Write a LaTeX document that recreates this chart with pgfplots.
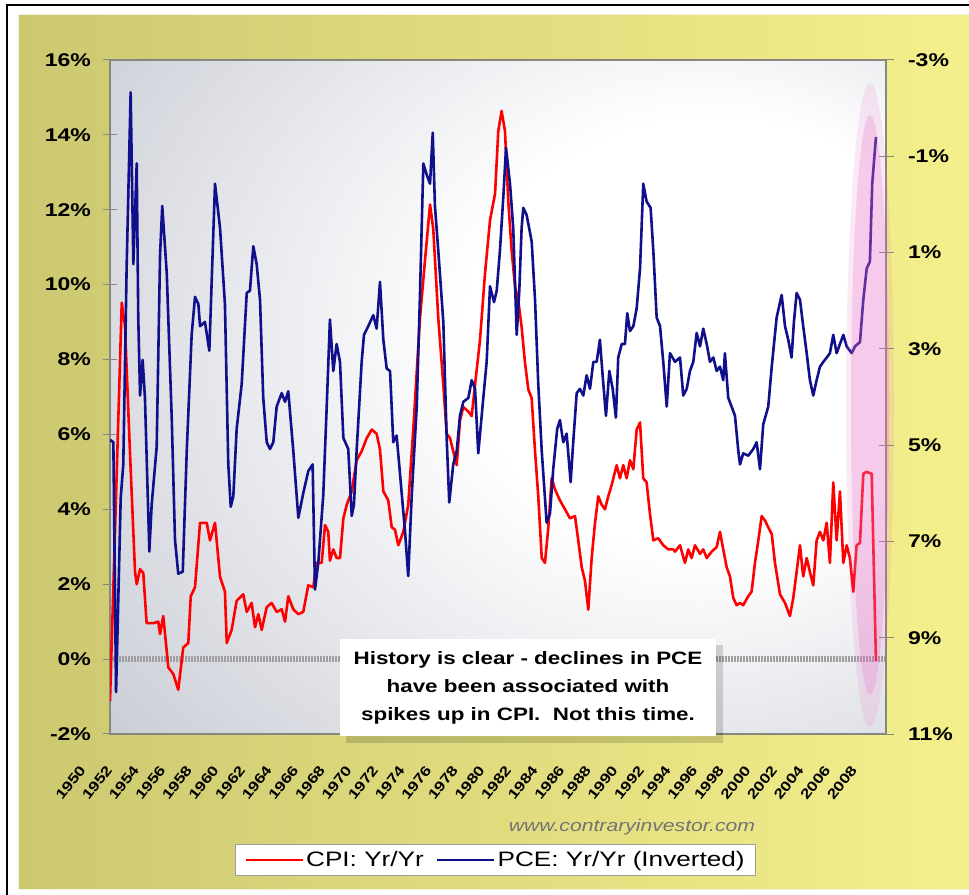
\documentclass[border=0pt]{standalone}
\usepackage{pgfplots}
\pgfplotsset{compat=1.18}
\usepackage{pgfplotstable}
\usepackage{fontspec}
\setmainfont{Liberation Sans}[FakeStretch=1.25]

\definecolor{cpired}{RGB}{255,0,0}
\definecolor{pcenavy}{RGB}{16,16,140}
\definecolor{axisgray}{RGB}{135,135,125}
\definecolor{bgGray}{RGB}{192,195,206}
\definecolor{panelL}{RGB}{204,200,112}
\definecolor{panelR}{RGB}{244,240,140}
\definecolor{hilite}{RGB}{232,110,200}
\pgfdeclareradialshading{plotbg}{\pgfpoint{18bp}{6bp}}{color(0bp)=(white); color(16bp)=(white); color(48bp)=(bgGray); color(70bp)=(bgGray!85!black)}

% CPI year over year, %
\pgfplotstableread{
yr cpi
1950.00 -1.12
1950.91 9.52
1951.16 8.90
1951.55 5.50
1951.94 2.33
1952.07 2.00
1952.33 2.40
1952.58 2.30
1952.84 0.96
1953.36 0.96
1953.74 1.00
1953.88 0.67
1954.13 1.15
1954.52 -0.22
1954.91 -0.40
1955.29 -0.82
1955.68 0.31
1956.07 0.43
1956.26 1.68
1956.59 1.92
1956.98 3.64
1957.50 3.64
1957.75 3.17
1958.14 3.64
1958.53 2.20
1958.91 1.80
1959.05 0.43
1959.43 0.78
1959.82 1.56
1960.33 1.73
1960.60 1.26
1960.98 1.50
1961.24 0.85
1961.50 1.20
1961.76 0.78
1962.15 1.39
1962.53 1.50
1962.92 1.26
1963.31 1.33
1963.57 1.00
1963.82 1.68
1964.21 1.33
1964.60 1.20
1964.98 1.26
1965.37 1.97
1965.76 1.92
1966.02 2.57
1966.41 2.57
1966.67 3.58
1966.92 3.40
1967.05 2.63
1967.31 2.93
1967.57 2.70
1967.83 2.70
1968.09 3.76
1968.35 4.12
1968.74 4.48
1969.12 5.31
1969.51 5.55
1969.90 5.90
1970.29 6.13
1970.67 6.02
1970.93 5.60
1971.19 4.48
1971.57 4.24
1971.84 3.52
1972.09 3.46
1972.35 3.04
1972.74 3.40
1973.12 4.12
1973.51 6.13
1974.03 9.10
1974.42 10.65
1974.81 12.14
1975.06 11.49
1975.45 9.10
1975.84 7.33
1976.10 6.02
1976.36 5.90
1976.61 5.55
1976.88 5.18
1977.13 6.37
1977.39 6.73
1977.78 6.61
1978.04 6.49
1978.30 7.33
1978.68 8.51
1979.07 10.29
1979.46 11.72
1979.85 12.43
1980.10 14.10
1980.36 14.64
1980.62 14.10
1980.88 12.20
1981.14 10.90
1981.40 9.95
1981.65 9.58
1981.91 8.87
1982.17 7.92
1982.43 7.20
1982.69 6.97
1982.95 5.55
1983.20 4.35
1983.47 2.70
1983.72 2.57
1983.98 3.52
1984.24 4.83
1984.50 4.53
1984.88 4.24
1985.27 4.00
1985.66 3.76
1986.05 3.82
1986.30 3.17
1986.57 2.45
1986.82 2.09
1987.08 1.32
1987.34 2.70
1987.60 3.64
1987.85 4.35
1988.12 4.12
1988.37 4.00
1988.63 4.35
1988.89 4.65
1989.28 5.18
1989.53 4.83
1989.79 5.18
1990.05 4.83
1990.31 5.31
1990.57 5.07
1990.83 6.13
1991.09 6.32
1991.34 4.83
1991.60 4.72
1991.86 3.88
1992.12 3.17
1992.50 3.23
1992.89 3.04
1993.28 2.93
1993.67 2.93
1993.80 2.87
1994.19 3.04
1994.57 2.57
1994.83 2.93
1995.09 2.70
1995.35 3.04
1995.74 2.81
1995.99 2.93
1996.26 2.70
1996.64 2.87
1997.03 2.99
1997.29 3.40
1997.54 2.93
1997.81 2.45
1998.06 2.21
1998.32 1.63
1998.58 1.44
1998.84 1.50
1999.09 1.44
1999.48 1.68
1999.74 1.80
2000.00 2.57
2000.26 3.17
2000.52 3.82
2000.78 3.70
2001.03 3.52
2001.30 3.34
2001.55 2.57
2001.94 1.73
2002.33 1.50
2002.71 1.15
2002.97 1.63
2003.23 2.33
2003.49 3.04
2003.74 2.21
2004.01 2.70
2004.26 2.33
2004.52 1.97
2004.78 3.17
2005.04 3.40
2005.30 3.17
2005.56 3.64
2005.81 2.57
2006.07 4.72
2006.33 3.17
2006.59 4.48
2006.85 2.57
2007.11 3.04
2007.36 2.70
2007.62 1.80
2007.88 3.04
2008.14 3.10
2008.40 4.95
2008.66 5.00
2009.05 4.95
2009.38 -0.05
}\cpidata

% PCE year over year, %, shown on the inverted right axis
\pgfplotstableread{
yr pce
1950.00 4.89
1950.26 4.94
1950.47 10.13
1950.83 6.10
1951.03 5.40
1951.29 1.30
1951.60 -2.33
1951.81 1.24
1952.07 -0.85
1952.19 2.35
1952.33 3.97
1952.53 3.23
1952.71 4.02
1953.05 7.21
1953.23 6.24
1953.62 5.03
1953.88 1.05
1954.05 0.03
1954.40 1.43
1954.78 4.39
1955.04 6.97
1955.29 7.67
1955.64 7.63
1955.95 5.12
1956.33 2.71
1956.59 1.92
1956.85 2.07
1956.98 2.53
1957.36 2.44
1957.70 3.04
1958.14 -0.43
1958.53 0.49
1958.91 2.07
1959.17 5.40
1959.36 6.28
1959.56 6.06
1959.82 4.66
1960.21 3.73
1960.60 1.84
1960.85 1.79
1961.11 0.87
1961.37 1.24
1961.63 1.98
1961.88 4.02
1962.15 4.94
1962.40 5.08
1962.66 4.94
1962.92 4.20
1963.31 3.92
1963.57 4.10
1963.82 3.88
1964.21 5.12
1964.60 6.51
1964.98 6.00
1965.37 5.54
1965.71 5.40
1965.89 8.00
1966.15 7.44
1966.53 6.05
1966.80 4.20
1967.05 2.39
1967.31 3.46
1967.57 2.90
1967.83 3.27
1968.09 4.85
1968.47 5.08
1968.74 6.47
1968.91 6.24
1969.12 5.12
1969.51 3.27
1969.69 2.71
1970.02 2.53
1970.41 2.30
1970.67 2.58
1970.93 1.61
1971.19 2.81
1971.45 3.41
1971.71 3.46
1971.96 4.94
1972.22 4.80
1972.48 5.59
1972.87 6.79
1973.12 7.72
1973.39 6.05
1973.78 4.20
1974.03 1.88
1974.29 -0.85
1974.55 -0.62
1974.81 -0.43
1975.02 -1.49
1975.19 0.03
1975.45 0.96
1975.84 2.44
1976.10 4.85
1976.30 6.19
1976.61 5.40
1976.88 5.12
1977.13 4.39
1977.39 4.10
1977.78 4.02
1978.04 3.65
1978.30 3.83
1978.55 5.17
1978.94 4.02
1979.20 3.27
1979.46 1.70
1979.77 2.03
1979.98 1.79
1980.23 0.96
1980.49 -0.15
1980.70 -1.17
1981.01 -0.43
1981.26 0.49
1981.53 2.71
1981.73 1.79
1981.91 0.49
1982.04 0.07
1982.30 0.22
1982.69 0.77
1982.95 1.98
1983.20 3.73
1983.47 5.12
1983.85 6.61
1984.11 6.42
1984.36 5.50
1984.67 4.66
1984.88 4.48
1985.14 4.94
1985.40 4.76
1985.71 5.77
1985.91 4.94
1986.18 3.92
1986.43 3.83
1986.69 3.97
1986.95 3.55
1987.21 3.83
1987.47 3.27
1987.73 3.27
1987.98 2.81
1988.19 3.55
1988.45 4.39
1988.71 3.46
1988.97 3.83
1989.22 4.43
1989.40 3.18
1989.67 2.90
1989.92 2.90
1990.10 2.26
1990.31 2.63
1990.57 2.53
1990.83 2.16
1991.09 1.33
1991.34 -0.43
1991.60 -0.06
1991.91 0.07
1992.12 0.96
1992.38 2.35
1992.64 2.53
1992.89 3.27
1993.16 4.20
1993.41 3.09
1993.80 3.27
1994.19 3.18
1994.44 3.97
1994.71 3.83
1994.96 3.46
1995.22 3.27
1995.48 2.67
1995.74 2.95
1995.99 2.58
1996.26 2.90
1996.51 3.27
1996.77 3.18
1997.03 3.46
1997.29 3.37
1997.54 3.65
1997.67 3.09
1997.93 4.02
1998.19 4.20
1998.45 4.39
1998.71 5.12
1998.84 5.40
1999.09 5.17
1999.48 5.22
1999.87 5.08
2000.13 4.94
2000.39 5.50
2000.64 4.57
2001.03 4.20
2001.30 3.37
2001.68 2.35
2002.07 1.88
2002.33 2.53
2002.58 2.81
2002.84 3.18
2003.02 2.44
2003.23 1.84
2003.49 1.98
2003.74 2.53
2004.01 3.09
2004.26 3.65
2004.52 3.97
2004.78 3.65
2005.04 3.37
2005.30 3.27
2005.56 3.18
2005.81 3.09
2006.07 2.71
2006.33 3.09
2006.59 2.90
2006.85 2.71
2007.11 2.95
2007.50 3.09
2007.75 2.95
2008.14 2.86
2008.40 1.98
2008.66 1.33
2008.91 1.19
2009.09 -0.43
2009.38 -1.40
}\pcedata

\pgfplotsset{
  common/.style={
    at={(110bp,161bp)}, anchor=south west,
    scale only axis, width=776bp, height=674bp,
    xmin=1950, xmax=2010.16,
    axis line style={axisgray, line width=1.4bp},
    tick style={axisgray, line width=1bp},
    major tick length=15bp, tick align=center,
    y tick label style={font=\fontsize{18.5}{20}\selectfont\bfseries,
      /pgf/number format/assume math mode=true},
  },
}

\begin{document}
\begin{tikzpicture}[x=1bp,y=1bp]
\useasboundingbox (0,0) rectangle (969,895);
\fill[white] (0,0) rectangle (969,895);
\draw[black, line width=1.6bp] (7,-5) -- (7,890) -- (975,890);
\shade[left color=panelL, right color=panelR] (18,5) rectangle (969,880);
\draw[white!75!panelL, line width=1bp] (18,5) rectangle (969,880);
\shade[shading=plotbg] (110,161) rectangle (886,835);

\begin{axis}[common,
    ymin=-2, ymax=16,
    ytick={-2,0,...,16},
    yticklabel={\pgfmathprintnumber{\tick}\%},
    y tick label style={xshift=-8bp},
    ytick pos=left, xtick pos=bottom,
    xtick={1950,1952.062,...,2009.85},
    xticklabels={1950,1952,1954,1956,1958,1960,1962,1964,1966,1968,1970,1972,1974,1976,1978,
      1980,1982,1984,1986,1988,1990,1992,1994,1996,1998,2000,2002,2004,2006,2008},
    x tick style={draw=none},
    x tick label style={xshift=-32bp, yshift=-18bp, rotate=52, anchor=north east,
      font=\fontsize{14}{15}\selectfont\bfseries},
    legend columns=2,
    legend style={at={(0.4968,-0.187)}, anchor=center,
      draw=axisgray!80, fill=white, line width=0.8bp,
      font=\fontsize{21}{24}\selectfont,
      inner xsep=9bp, inner ysep=5bp,
      /tikz/every even column/.append style={column sep=10bp}},
    legend image code/.code={\draw[#1, line width=2.8bp] (0bp,0bp) -- (57bp,0bp);},
  ]
  \draw[gray!75, line width=6bp, dash pattern=on 1.6bp off 1.4bp]
    (axis cs:1950,0) -- (axis cs:2010.16,0);
  \addplot[cpired, line width=2.6bp, line join=round] table[x=yr, y=cpi] {\cpidata};
  \addlegendentry{CPI: Yr/Yr}
  \addlegendimage{pcenavy}
  \addlegendentry{PCE: Yr/Yr (Inverted)}
\end{axis}

\begin{axis}[common,
    ymin=-3, ymax=11, y dir=reverse,
    axis x line=none, axis y line*=right,
    ytick={-3,-1,...,11},
    yticklabel={\pgfmathprintnumber{\tick}\%},
    y tick label style={anchor=west, xshift=11bp},
  ]
  \addplot[pcenavy, line width=2.6bp, line join=round] table[x=yr, y=pce] {\pcedata};
\end{axis}

% pink highlight over the latest readings
\fill[hilite, opacity=0.15] (870,490) ellipse [x radius=24, y radius=322];
\fill[hilite, opacity=0.25] (870,490) ellipse [x radius=19, y radius=290];

% note box
\fill[black, opacity=0.15] (346,152) rectangle (723,250);
\fill[white] (340,159) rectangle (716,256);
\node[align=center, font=\fontsize{18}{28}\selectfont\bfseries] at (528,207)
  {History is clear - declines in PCE\\have been associated with\\spikes up in CPI.\ \ Not this time.};

\node[font=\fontsize{17}{20}\selectfont\itshape, text=black!55] at (632,68) {www.contraryinvestor.com};
\end{tikzpicture}
\end{document}
